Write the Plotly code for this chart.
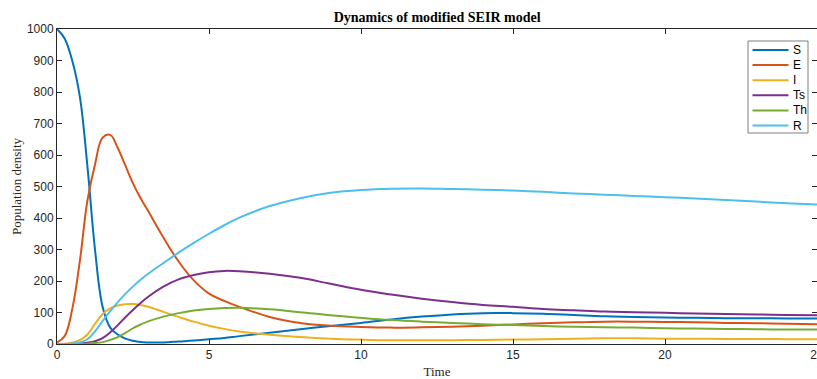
import plotly.graph_objects as go

t = [0, 0.25, 0.5, 0.75, 1.0, 1.25, 1.5, 1.75, 2.0, 2.25, 2.5, 2.75, 3.0, 3.5, 4.0, 4.5,
     5.0, 5.5, 6.0, 7.0, 8.0, 9.0, 10, 11, 12, 13, 14, 15, 16, 17, 18, 19, 20, 21, 22, 23, 24, 25]

S = [1000, 970, 900, 786, 565, 300, 118, 52, 30, 17, 10, 6, 5, 5, 8, 11,
     15, 19, 25, 36, 47, 57, 67, 78, 87, 94, 98, 98, 96, 92, 88, 86, 84, 83, 82, 82, 81, 81]
E = [5, 25, 110, 262, 455, 570, 655, 664, 622, 566, 510, 463, 422, 338, 262, 202,
     160, 137, 118, 86, 67, 58, 54, 52, 53, 55, 58, 62, 66, 69, 71, 71, 70, 69, 67, 66, 64, 63]
I = [0, 1, 4, 12, 30, 64, 95, 113, 122, 126, 127, 124, 118, 102, 86, 71,
     58, 48, 40, 29, 22, 17, 14, 12, 12, 12, 13, 14, 15, 17, 18, 18, 17, 17, 16, 16, 15, 15]
Ts = [0, 0, 0, 1, 4, 9, 19, 37, 60, 85, 108, 130, 150, 182, 205, 219,
      228, 232, 231, 223, 210, 191, 172, 157, 144, 133, 124, 118, 111, 107, 103, 101, 99, 97, 95, 94, 92, 91]
Th = [0, 0, 0, 0, 1, 3, 6, 13, 22, 35, 50, 62, 72, 87, 98, 106,
      111, 114, 115, 110, 101, 91, 83, 76, 71, 67, 63, 60, 57, 55, 53, 52, 50, 49, 48, 47, 46, 46]
R = [0, 0, 2, 5, 15, 40, 73, 104, 133, 159, 183, 204, 223, 257, 290, 321,
     350, 377, 401, 438, 463, 480, 489, 493, 494, 492, 490, 487, 483, 478, 474, 470, 466, 462, 457, 452, 447, 443]

names = ["S", "E", "I", "Ts", "Th", "R"]
series = [S, E, I, Ts, Th, R]
colors = ["#0072BD", "#D95319", "#EDB120", "#7E2F8E", "#77AC30", "#4DBEEE"]

fig = go.Figure()
for n, y, c in zip(names, series, colors):
    fig.add_trace(go.Scatter(x=t, y=y, name=n, mode="lines", showlegend=False,
                             line=dict(color=c, width=2, shape="spline", smoothing=1.1)))

# MATLAB-style compact legend box (paper coordinates of the axes)
plot_l, plot_w, plot_t, plot_h = 57, 760, 29, 315
def px(xp):
    return (xp - plot_l) / plot_w
def py(yp):
    return 1 - (yp - plot_t) / plot_h

shapes = [dict(type="rect", xref="paper", yref="paper",
               x0=px(748), x1=px(808), y0=py(133), y1=py(41),
               line=dict(color="#7f7f7f", width=1), fillcolor="white", layer="above")]
annotations = []
for i, (n, c) in enumerate(zip(names, colors)):
    yy = 50 + 15.1 * i
    shapes.append(dict(type="line", xref="paper", yref="paper",
                       x0=px(752.5), x1=px(788.5), y0=py(yy), y1=py(yy),
                       line=dict(color=c, width=2), layer="above"))
    annotations.append(dict(text=n, xref="paper", yref="paper", x=px(790.5), y=py(yy),
                            xanchor="left", yanchor="middle", showarrow=False,
                            font=dict(family="Liberation Sans", size=12, color="black")))

axcol = "#262626"
fig.update_layout(
    width=817, height=379,
    margin=dict(l=57, r=0, t=29, b=35),
    paper_bgcolor="white", plot_bgcolor="white",
    title=dict(text="<b>Dynamics of modified SEIR model</b>", x=0.535, xanchor="center",
               y=0.955, yanchor="middle",
               font=dict(family="Liberation Serif", size=14, color="black")),
    font=dict(family="Liberation Sans", size=12, color=axcol),
    showlegend=False,
    shapes=shapes,
    annotations=annotations,
    xaxis=dict(range=[0, 25], tickvals=[0, 5, 10, 15, 20, 25], showgrid=False, zeroline=False,
               showline=True, linecolor=axcol, linewidth=1, mirror="ticks", automargin=False,
               ticks="inside", ticklen=5, tickcolor=axcol, ticklabeloverflow="allow",
               title=dict(text="Time", font=dict(family="Liberation Serif", size=13, color=axcol),
                          standoff=6)),
    yaxis=dict(range=[0, 1000], tickvals=list(range(0, 1001, 100)), showgrid=False, zeroline=False,
               showline=True, linecolor=axcol, linewidth=1, mirror="ticks", automargin=False,
               ticks="inside", ticklen=5, tickcolor=axcol,
               title=dict(text="Population density", font=dict(family="Liberation Serif", size=13, color=axcol),
                          standoff=2)),
)

fig.write_html("out.html")
